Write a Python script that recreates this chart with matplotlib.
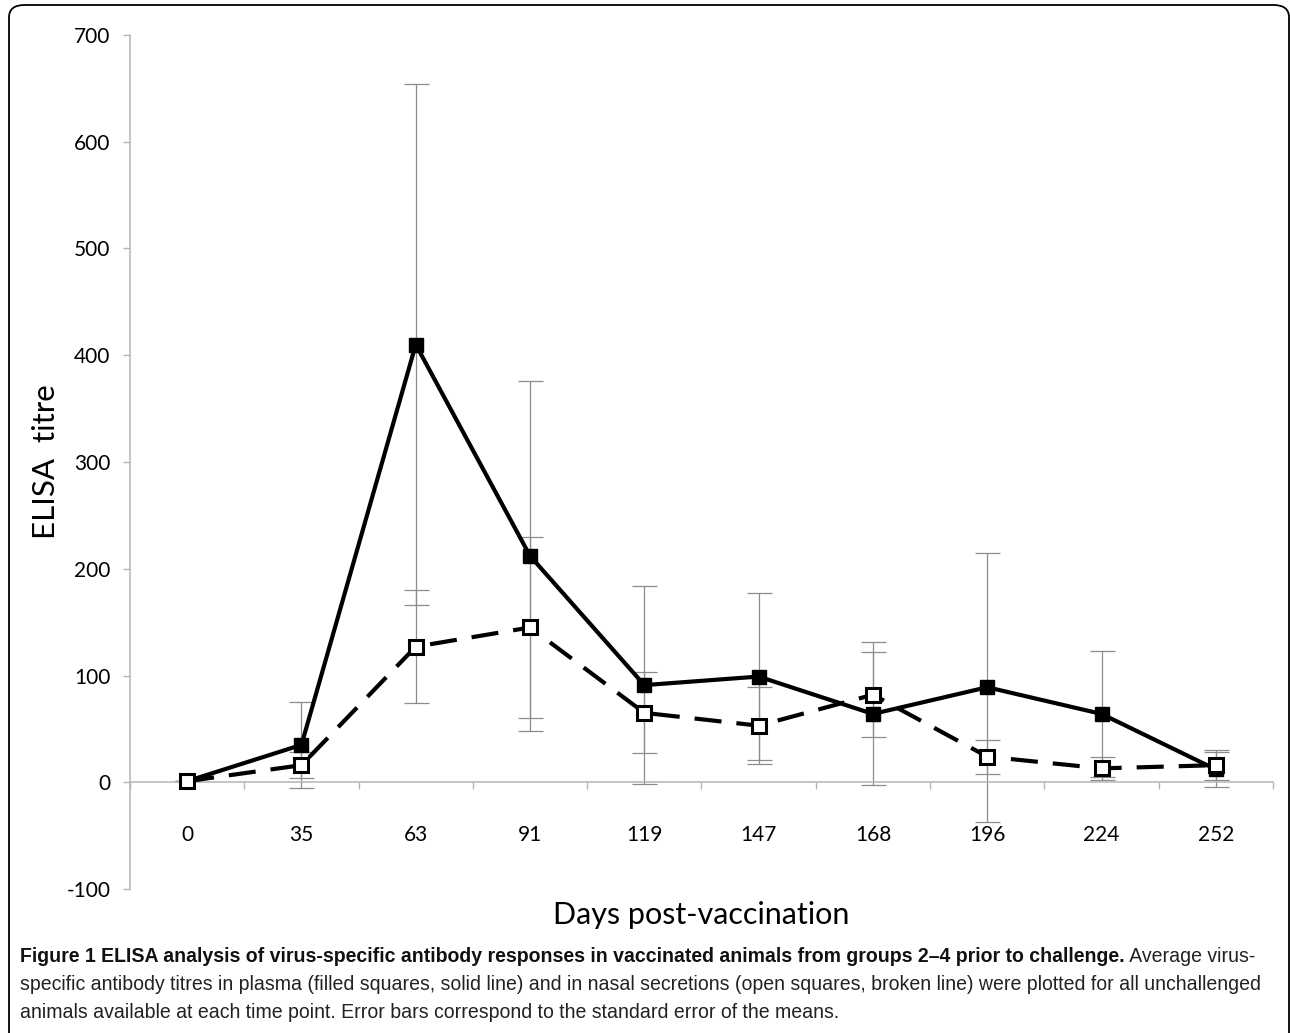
import matplotlib
matplotlib.use("Agg")
import matplotlib.pyplot as plt
from matplotlib import font_manager
from matplotlib.patches import FancyBboxPatch
import numpy as np

# ---- data ----
days = ["0", "35", "63", "91", "119", "147", "168", "196", "224", "252"]
plasma_mean = [1, 35, 410, 212, 91, 99, 64, 89, 64, 12]
plasma_se = [0, 40, 244, 164, 93, 78, 67, 126, 59, 16]
nasal_mean = [1, 16, 127, 145, 65, 53, 82, 24, 13, 16]
nasal_se = [0, 12, 53, 85, 38, 36, 40, 16, 10.5, 14]
y_ticks = [-100, 0, 100, 200, 300, 400, 500, 600, 700]

W, H = 1290, 1033
fig = plt.figure(figsize=(W / 100, H / 100), dpi=100)

names = {f.name for f in font_manager.fontManager.ttflist}
axis_font = "Lato" if "Lato" in names else "DejaVu Sans"
cap_font = "Liberation Sans Narrow" if "Liberation Sans Narrow" in names else "Liberation Sans"

ax = fig.add_axes([130 / W, 1 - 889 / H, (1273 - 130) / W, (889 - 35) / H])
x = np.arange(len(days))

for s in ["top", "right"]:
    ax.spines[s].set_visible(False)
ax.spines["bottom"].set_position(("data", 0))
ax.spines["left"].set_color("#b5b5b5")
ax.spines["left"].set_linewidth(1.1)
ax.spines["bottom"].set_color("#b5b5b5")
ax.spines["bottom"].set_linewidth(1.1)

ax.errorbar(x, plasma_mean, yerr=plasma_se, fmt="none", ecolor="#8c8c8c",
            elinewidth=0.9, capsize=9, capthick=0.9, zorder=2)
ax.errorbar(x, nasal_mean, yerr=nasal_se, fmt="none", ecolor="#8c8c8c",
            elinewidth=0.9, capsize=9, capthick=0.9, zorder=2)

ax.plot(x, plasma_mean, color="black", lw=3, marker="s", markersize=10,
        markerfacecolor="black", markeredgecolor="black", zorder=4,
        solid_joinstyle="miter")
ax.plot(x, nasal_mean, color="black", lw=3, dashes=(6.5, 3.6), marker="s",
        markersize=10, markerfacecolor="white", markeredgecolor="black",
        markeredgewidth=2.2, zorder=5)

ax.set_xlim(-0.5, len(days) - 0.5)
ax.set_ylim(-100, 700)
ax.set_yticks(y_ticks)
ax.set_yticklabels([str(v) for v in y_ticks], fontsize=15, family=axis_font)
ax.set_xticks(x)
ax.set_xticks(np.arange(-0.5, len(days)), minor=True)
ax.set_xticklabels(days, fontsize=15, family=axis_font)

ax.tick_params(axis="y", direction="out", length=5, width=1, color="#b5b5b5", pad=9)
ax.tick_params(axis="x", which="major", length=0, pad=31)
ax.tick_params(axis="x", which="minor", direction="out", length=5, width=1, color="#b5b5b5")

ax.set_ylabel("ELISA  titre", fontsize=22.5, family=axis_font)
ax.yaxis.set_label_coords((60 - 130) / (1273 - 130), 0.5)
fig.text(701 / W, 1 - 915 / H, "Days post-vaccination", fontsize=22,
         family=axis_font, ha="center", va="center")

# border
border = FancyBboxPatch((9 / W, -0.05), (1289 - 9) / W, (1 - 5 / H) + 0.05,
                        boxstyle="round,pad=0,rounding_size=0.012",
                        transform=fig.transFigure, fill=False, lw=1.3,
                        edgecolor="black", clip_on=False)
fig.patches.append(border)

# caption
bold1 = "Figure 1 ELISA analysis of virus-specific antibody responses in vaccinated animals from groups 2\u20134 prior to challenge."
reg1 = " Average virus-"
line2 = "specific antibody titres in plasma (filled squares, solid line) and in nasal secretions (open squares, broken line) were plotted for all unchallenged"
line3 = "animals available at each time point. Error bars correspond to the standard error of the means."

fs = 14
fig.canvas.draw()
r = fig.canvas.get_renderer()
t2 = fig.text(20 / W, 1 - 985 / H, line2, fontsize=fs, family=cap_font, va="center", color="#222222")
w2 = t2.get_window_extent(r).width
fs = fs * (1247 / w2)
t2.set_fontsize(fs)
tb = fig.text(20 / W, 1 - 957 / H, bold1, fontsize=fs, family=cap_font, weight="bold", va="center", color="#111111")
wb = tb.get_window_extent(r).width
fig.text((20 + wb) / W, 1 - 957 / H, reg1, fontsize=fs, family=cap_font, va="center", color="#222222")
fig.text(20 / W, 1 - 1013 / H, line3, fontsize=fs, family=cap_font, va="center", color="#222222")

fig.savefig("out.png", dpi=100)
